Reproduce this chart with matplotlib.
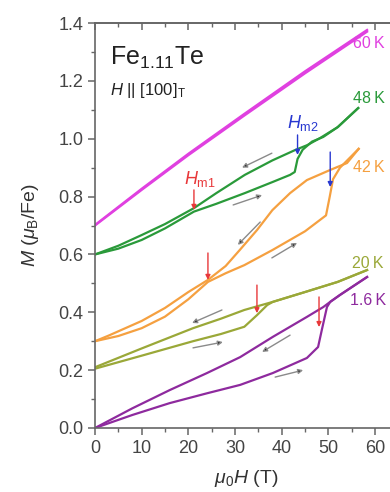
import matplotlib
matplotlib.use("Agg")
import matplotlib.pyplot as plt
from matplotlib.ticker import MultipleLocator

plt.rcParams['font.family'] = ['Liberation Sans', 'DejaVu Sans']
plt.rcParams['mathtext.fontset'] = 'custom'
plt.rcParams['mathtext.rm'] = 'Liberation Sans'
plt.rcParams['mathtext.it'] = 'Liberation Sans:italic'
plt.rcParams['mathtext.bf'] = 'Liberation Sans:bold'

# ---- data (H in T, M in muB/Fe) ----
H60_up = [0, 10, 20, 32, 45, 58.3]
M60_up = [0.700, 0.823, 0.943, 1.080, 1.226, 1.370]
H60_dn = [0, 10, 20, 32, 45, 58.3]
M60_dn = [0.702, 0.827, 0.948, 1.086, 1.233, 1.376]

H48_up = [0, 5, 10, 15, 21.2, 26, 32.1, 38, 41.8, 42.8, 43.4, 44.5, 46.5, 48.9, 52, 56.4]
M48_up = [0.600, 0.620, 0.650, 0.690, 0.748, 0.775, 0.812, 0.850, 0.875, 0.885, 0.930, 0.962, 0.990, 1.006, 1.040, 1.106]
H48_dn = [0, 5, 10, 15, 21.2, 26, 32.1, 38, 42.9, 45.5, 48.2, 52, 56.4]
M48_dn = [0.600, 0.630, 0.667, 0.705, 0.760, 0.812, 0.875, 0.925, 0.961, 0.978, 1.002, 1.040, 1.106]

H42_up = [0, 5, 10, 15, 20, 24.2, 28, 32, 38, 45, 49.5, 50.3, 51, 52.5, 56.5]
M42_up = [0.300, 0.318, 0.345, 0.385, 0.445, 0.505, 0.535, 0.563, 0.615, 0.680, 0.735, 0.800, 0.860, 0.900, 0.965]
H42_dn = [0, 3, 10, 15, 20, 24.2, 28, 31, 34.7, 38, 41.8, 45.4, 50.4, 54, 56.5]
M42_dn = [0.300, 0.320, 0.370, 0.415, 0.470, 0.512, 0.560, 0.615, 0.684, 0.753, 0.812, 0.857, 0.892, 0.916, 0.965]

H20_up = [0, 10, 21, 27, 32, 34.7, 36.9, 38.1, 45, 52, 58.3]
M20_up = [0.205, 0.250, 0.300, 0.325, 0.350, 0.390, 0.425, 0.436, 0.470, 0.505, 0.546]
H20_dn = [0, 10, 21, 27, 32, 38.1, 45, 52, 58.3]
M20_dn = [0.210, 0.275, 0.345, 0.378, 0.408, 0.436, 0.470, 0.505, 0.546]

H16_up = [0, 8, 16, 24, 31.1, 38.1, 45.4, 47.8, 48.6, 49.7, 50.4, 52.5, 58.3]
M16_up = [0.000, 0.045, 0.086, 0.120, 0.149, 0.190, 0.242, 0.280, 0.339, 0.418, 0.436, 0.460, 0.522]
H16_dn = [0, 8, 16, 24, 31.1, 38.1, 45.4, 48.9, 50.4, 52.5, 58.3]
M16_dn = [0.000, 0.068, 0.131, 0.190, 0.245, 0.315, 0.384, 0.418, 0.436, 0.460, 0.522]

temps = ['60 K', '48 K', '42 K', '20 K', '1.6 K']
colors = ['#e040e0', '#2a9a3a', '#f5a040', '#9aa838', '#8e2a9e']
label_H = [55.3, 55.3, 55.3, 55.0, 54.6]
label_M = [1.33, 1.14, 0.90, 0.57, 0.442]

# transition arrows: H, M_top, M_head
hm1_H = [21.2, 24.2, 34.7, 48.0]
hm1_top = [0.823, 0.605, 0.494, 0.453]
hm1_head = [0.754, 0.512, 0.397, 0.349]
hm2_H = [43.4, 50.4]
hm2_top = [1.013, 0.954]
hm2_head = [0.944, 0.833]

# sweep direction arrows: (H_from, M_from, H_to, M_to)
sweep_H0 = [37.9, 29.6, 35.4, 37.9, 27.2, 21.0, 41.8, 38.6]
sweep_M0 = [0.950, 0.771, 0.712, 0.588, 0.408, 0.277, 0.321, 0.176]
sweep_H1 = [31.5, 35.8, 30.6, 43.3, 20.8, 27.4, 35.8, 44.6]
sweep_M1 = [0.900, 0.805, 0.633, 0.640, 0.363, 0.297, 0.263, 0.200]

fig = plt.figure(figsize=(3.9, 4.92), dpi=100)
ax = fig.add_axes([95/390, 64/492, (65*4.667)/390, 405/492])

branches = [(H60_up, M60_up, H60_dn, M60_dn),
            (H48_up, M48_up, H48_dn, M48_dn),
            (H42_up, M42_up, H42_dn, M42_dn),
            (H20_up, M20_up, H20_dn, M20_dn),
            (H16_up, M16_up, H16_dn, M16_dn)]
for (hu, mu, hd, md), c in zip(branches, colors):
    ax.plot(hu, mu, color=c, lw=1.6, solid_joinstyle='round')
    ax.plot(hd, md, color=c, lw=1.6, solid_joinstyle='round')

for t, c, x, y in zip(temps, colors, label_H, label_M):
    ax.text(x, y, t.replace(' ', '\u2009'), color=c, fontsize=11.5, va='center', ha='left')

red = '#e8383a'
blue = '#2838d0'
for h, t, hd in zip(hm1_H, hm1_top, hm1_head):
    ax.annotate('', xy=(h, hd), xytext=(h, t),
                arrowprops=dict(arrowstyle='-|>', color=red, lw=1.0,
                                mutation_scale=7, shrinkA=0, shrinkB=0))
for h, t, hd in zip(hm2_H, hm2_top, hm2_head):
    ax.annotate('', xy=(h, hd), xytext=(h, t),
                arrowprops=dict(arrowstyle='-|>', color=blue, lw=1.0,
                                mutation_scale=7, shrinkA=0, shrinkB=0))
ax.text(22.5, 0.86, r'$H_{\mathrm{m1}}$', color=red, fontsize=13, ha='center', va='center')
ax.text(44.6, 1.055, r'$H_{\mathrm{m2}}$', color=blue, fontsize=13, ha='center', va='center')

for h0, m0, h1, m1 in zip(sweep_H0, sweep_M0, sweep_H1, sweep_M1):
    ax.annotate('', xy=(h1, m1), xytext=(h0, m0),
                arrowprops=dict(arrowstyle='-|>', edgecolor='#8a8a8a', facecolor='black',
                                lw=1.0, mutation_scale=7, shrinkA=0, shrinkB=0))

ax.text(3.2, 1.28, r'Fe$_{1.11}$Te', fontsize=18, ha='left', va='center', color='#222222')
ax.text(3.2, 1.165, r'$H$ || [100]$_{\mathrm{T}}$', fontsize=12, ha='left', va='center', color='#222222')

ax.set_xlim(0, 65)
ax.set_ylim(0, 1.4)
ax.xaxis.set_major_locator(MultipleLocator(10))
ax.xaxis.set_minor_locator(MultipleLocator(5))
ax.yaxis.set_major_locator(MultipleLocator(0.2))
ax.yaxis.set_minor_locator(MultipleLocator(0.1))
ax.yaxis.set_major_formatter(matplotlib.ticker.FormatStrFormatter('%.1f'))

spc = '#666666'
for s in ax.spines.values():
    s.set_color(spc)
    s.set_linewidth(1.2)
ax.tick_params(axis='both', which='both', colors=spc, labelcolor='#444444', labelsize=13)
ax.tick_params(axis='both', which='both', direction='out')
ax.tick_params(which='major', length=5, width=1.1)
ax.tick_params(which='minor', length=3, width=1.0)
ax.tick_params(axis='x', which='both', top=False, labeltop=False)
sec = ax.secondary_xaxis('top')
sec.xaxis.set_major_locator(MultipleLocator(10))
sec.xaxis.set_minor_locator(MultipleLocator(5))
sec.tick_params(which='both', direction='in', colors=spc, labeltop=False)
sec.tick_params(which='major', length=5, width=1.1)
sec.tick_params(which='minor', length=3, width=1.0)
sec.spines['top'].set_color(spc)
sec.spines['top'].set_linewidth(1.2)

ax.set_xlabel(r'$\mu_0H$ (T)', fontsize=14, color='#333333', labelpad=8)
ax.set_ylabel(r'$M$ ($\mu_{\mathrm{B}}$/Fe)', fontsize=14, color='#333333', labelpad=12)

fig.savefig('out.png', dpi=100)
